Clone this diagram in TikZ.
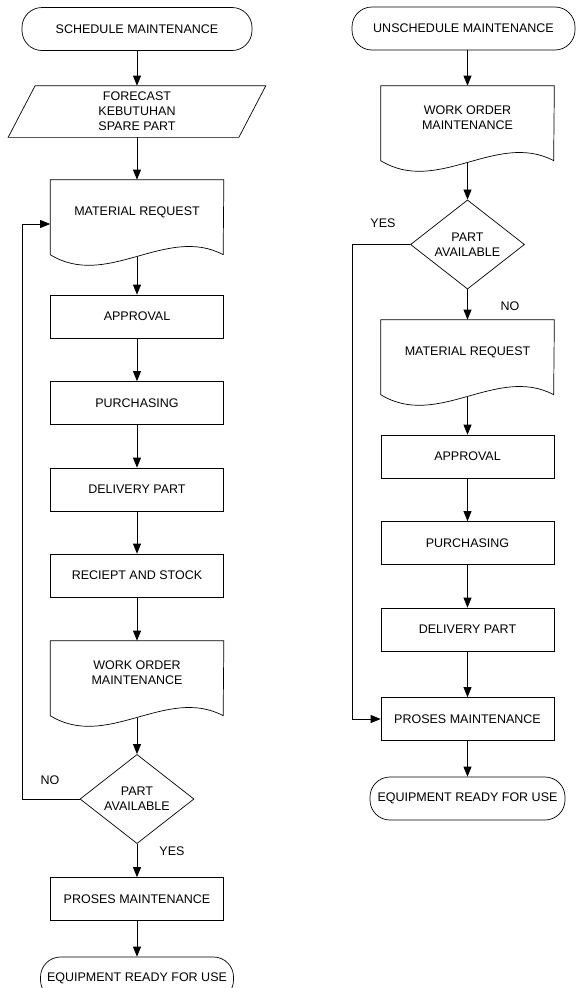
\documentclass[tikz,border=0pt]{standalone}
\usepackage{fontspec}
\setmainfont{Liberation Sans}
\usetikzlibrary{shapes.geometric,arrows.meta}

\tikzset{
  base/.style={font=\fontsize{12.5}{15}\selectfont, align=center, line width=0.7pt},
  terminal/.style={base, draw, rounded corners=20pt, minimum height=43pt, inner sep=0pt},
  process/.style={base, draw, minimum width=173pt, minimum height=43pt, inner sep=0pt},
  decision/.style={base, draw, diamond, minimum width=114pt, minimum height=86pt, inner sep=0pt},
  document/.style={base, minimum width=173pt, minimum height=64pt, inner sep=0pt,
    append after command={\pgfextra{\let\docnode\tikzlastnode
      \draw[line width=0.7pt] (\docnode.north west) -- ++(0,75) .. controls +(57,35) and +(-57,-30) .. ++(173,0) -- (\docnode.north east) -- cycle;
      \coordinate (\docnode-w) at ([yshift=-77pt]\docnode.north);}}},
  inout/.style={base, minimum width=230pt, minimum height=51pt, inner sep=0pt,
    append after command={\pgfextra{\let\ionode\tikzlastnode
      \draw[line width=0.7pt] ([xshift=13.5pt]\ionode.north west) -- ([xshift=13.5pt]\ionode.north east) -- ([xshift=-13.5pt]\ionode.south east) -- ([xshift=-13.5pt]\ionode.south west) -- cycle;}}},
  lbl/.style={font=\fontsize{12.5}{15}\selectfont},
  arr/.style={line width=0.7pt, -{Triangle[length=10pt,width=8pt]}}
}

\begin{document}
\begin{tikzpicture}[x=1pt, y=-1pt]
\useasboundingbox (0,0) rectangle (576,988);

% schedule maintenance
\node[terminal, minimum width=230pt] (t1) at (137,29) {SCHEDULE MAINTENANCE};
\node[inout] (fc) at (137,111.5) {FORECAST\\KEBUTUHAN\\SPARE PART};
\node[document] (mr1) at (137,212) {MATERIAL REQUEST};
\node[process] (ap1) at (137,316.5) {APPROVAL};
\node[process] (pu1) at (137,403) {PURCHASING};
\node[process] (dp1) at (137,489.5) {DELIVERY PART};
\node[process] (rs1) at (137,575.5) {RECIEPT AND STOCK};
\node[document] (wo1) at (137,673) {WORK ORDER\\MAINTENANCE};
\node[decision] (pa1) at (137,799) {PART\\AVAILABLE};
\node[process] (pm1) at (137,899) {PROSES MAINTENANCE};
\node[terminal, minimum width=193pt] (e1) at (137,978.5) {EQUIPMENT READY FOR USE};

\draw[arr] (t1) -- (fc);
\draw[arr] (fc) -- (mr1);
\draw[arr] (mr1-w) -- (ap1);
\draw[arr] (ap1) -- (pu1);
\draw[arr] (pu1) -- (dp1);
\draw[arr] (dp1) -- (rs1);
\draw[arr] (rs1) -- (wo1);
\draw[arr] (wo1-w) -- (pa1);
\draw[arr] (pa1) -- (pm1);
\draw[arr] (pm1) -- (e1);
\draw[arr] (pa1.west) -- ++(-57,0) |- ([yshift=-12pt]mr1.west); % back to request

\node[lbl] (no1) at (50,780) {NO};
\node[lbl] (yes1) at (172,851) {YES};

% unschedule maintenance
\node[terminal, minimum width=223pt] (t2) at (463.5,28.5) {UNSCHEDULE MAINTENANCE};
\node[document] (wo2) at (467.5,118) {WORK ORDER\\MAINTENANCE};
\node[decision] (pa2) at (467.5,244.5) {PART\\AVAILABLE};
\node[document] (mr2) at (467.5,352) {MATERIAL REQUEST};
\node[process] (ap2) at (467.5,456.5) {APPROVAL};
\node[process] (pu2) at (467.5,543) {PURCHASING};
\node[process] (dp2) at (467.5,629.5) {DELIVERY PART};
\node[process] (pm2) at (467.5,719) {PROSES MAINTENANCE};
\node[terminal, minimum width=195pt] (e2) at (467.5,798.5) {EQUIPMENT READY FOR USE};

\draw[arr] (wo2.north |- t2.south) -- (wo2);
\draw[arr] (wo2-w) -- (pa2);
\draw[arr] (pa2) -- (mr2);
\draw[arr] (mr2-w) -- (ap2);
\draw[arr] (ap2) -- (pu2);
\draw[arr] (pu2) -- (dp2);
\draw[arr] (dp2) -- (pm2);
\draw[arr] (pm2) -- (e2);
\draw[arr] (pa2.west) -- ++(-58,0) |- (pm2.west); % skip purchasing

\node[lbl] (yes2) at (383,223) {YES};
\node[lbl] (no2) at (510,306) {NO};
\end{tikzpicture}
\end{document}
